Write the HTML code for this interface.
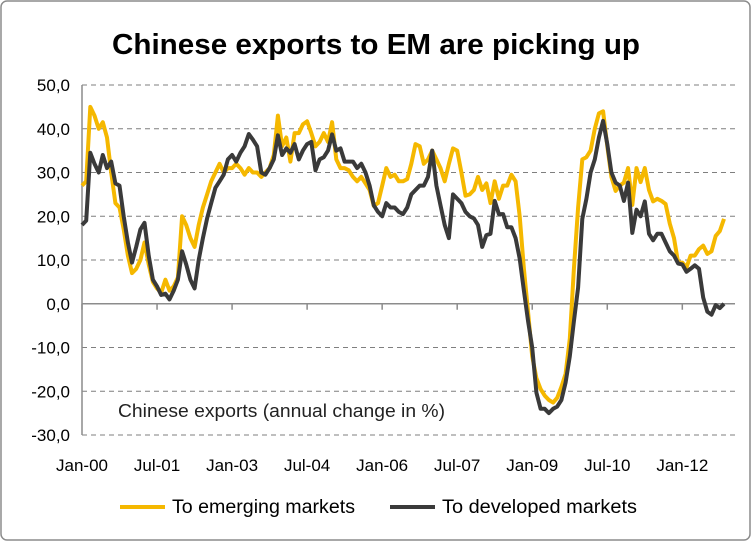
<!DOCTYPE html>
<html><head><meta charset="utf-8"><style>
html,body{margin:0;padding:0;background:#fff;}
svg{display:block;font-family:"Liberation Sans",sans-serif;}
</style></head><body>
<svg id="chart" width="751" height="541" viewBox="0 0 751 541">
<rect x="1" y="1" width="749" height="539" rx="6" fill="#fff" stroke="#8c8c8c" stroke-width="1.5"/>
<text x="376" y="54" text-anchor="middle" font-size="29" font-weight="bold" fill="#000" textLength="528" lengthAdjust="spacingAndGlyphs">Chinese exports to EM are picking up</text>
<g id="grid"></g><g id="axes"></g><g id="series"></g>
<text x="118" y="417" font-size="18" fill="#222" textLength="327" lengthAdjust="spacingAndGlyphs">Chinese exports (annual change in %)</text>
<g>
<g><line x1="120" y1="507" x2="165" y2="507" stroke="#f5b800" stroke-width="4"/><text x="172" y="513" font-size="19" fill="#000" textLength="183" lengthAdjust="spacingAndGlyphs">To emerging markets</text></g>
<g><line x1="390" y1="507" x2="435" y2="507" stroke="#3a3a3a" stroke-width="4"/><text x="442" y="513" font-size="19" fill="#000" textLength="195" lengthAdjust="spacingAndGlyphs">To developed markets</text></g>
</g>
</svg>
<script>
const yTicks=[50,40,30,20,10,0,-10,-20,-30];
const yTickLabels=["50,0","40,0","30,0","20,0","10,0","0,0","-10,0","-20,0","-30,0"];
const xTickMonths=[0,18,36,54,72,90,108,126,144];
const xTickLabels=["Jan-00","Jul-01","Jan-03","Jul-04","Jan-06","Jul-07","Jan-09","Jul-10","Jan-12"];
const emerging=[27,28,45,43,40,41.5,38,30,23,22,17,11,7,8,10,14,9,5,3.5,2.5,5.5,3,4,6,20,18,15,13,18,22,25,28,30,32,30,31,31,32,31,29.5,31,30,30,29,30,31,34,43,36,38,32.5,39,39,41,41.7,39,36,37,39,37,41.5,33,31,31,30.5,29,28,29,27.5,26,22.4,23,27,31,29,29.5,28,28,28.5,32,36.5,36,32,33,35,33,31,28,32,35.5,35,30,24.7,25,26,29,26,27.5,23,28,24,27,27,29.5,28,20,8,-2,-12,-17,-19.5,-21,-22,-22.6,-21.5,-19,-16,-8,8,22,33,33.5,35,40,43.5,44,36,29,25.8,27,27.7,31,22.6,31,27.8,31,26,23.4,24,23.5,22.8,18.3,15,9.4,9.4,8.3,11,11,12.5,13.3,11.4,12,15.5,16.6,19.4];
const developed=[18,19,34.5,32,30,34,31,32.5,27.5,27,20,14,9.4,13,17,18.5,11,5.5,4,2,2.3,1,3,5.5,12,9,5.5,3.5,10,15,19.5,23,26.5,28,29.5,33,34,32.5,34.5,36,38.8,37.5,36,30,29.5,31,33,38.5,34,35.5,34.5,36.5,33,35,36.5,37,30.5,33,33.5,35,38.7,35,35.5,32.5,32.5,32.5,31,32,30,27,22.5,21,20,23,22,22,21,20.5,22,25,26,27,27,29,35,27,22.5,18,15,25,24,23,21,20,19.5,18,13,15.7,16,23.5,20.5,20.5,17.5,17.5,15,10.3,3,-4,-10,-20.3,-24,-24,-25,-24,-23.5,-22,-18,-12,-4,3.7,19.4,24,30,33,38,41.8,36.5,30,27.7,27,23.5,27.7,16.2,21.5,20,23.4,16,14.5,16,16,14,12,11,9.2,9,7.3,8,8.8,8,1.4,-1.8,-2.5,-0.3,-1,0];

const NS="http://www.w3.org/2000/svg";
const X0=82,X1=724,Y50=85,Y_30=435;
function xs(i){return X0+(X1-X0)*i/(emerging.length-1);}
function ys(v){return Y50+(50-v)*(Y_30-Y50)/80;}
function mk(tag,attrs,parent){const e=document.createElementNS(NS,tag);for(const k in attrs)e.setAttribute(k,attrs[k]);parent.appendChild(e);return e;}
const grid=document.getElementById('grid'),axes=document.getElementById('axes'),series=document.getElementById('series');
yTicks.forEach((t,k)=>{
  if(t!==0){const l=mk('line',{x1:X0,x2:735,y1:ys(t),y2:ys(t),stroke:'#7f7f7f','stroke-width':1,'stroke-dasharray':'5,4'},grid);
  
  }
  const tx=mk('text',{x:70,y:ys(t)+6,'text-anchor':'end','font-size':17,fill:'#000'},axes);
  tx.textContent=yTickLabels[k];
  
  
});
const ya=mk('line',{x1:X0,x2:X0,y1:Y50,y2:Y_30,stroke:'#8c8c8c','stroke-width':1.5},axes);


const xa=mk('line',{x1:X0,x2:735,y1:ys(0),y2:ys(0),stroke:'#8c8c8c','stroke-width':1.5},axes);


xTickMonths.forEach((m,k)=>{
  const x=xs(m);
  const tk=mk('line',{x1:x,x2:x,y1:ys(0),y2:ys(0)+6,stroke:'#8c8c8c','stroke-width':1.5},axes);
  
  
  const tx=mk('text',{x:x,y:471,'text-anchor':'middle','font-size':17,fill:'#000'},axes);
  tx.textContent=xTickLabels[k];
  
  
});
function line(data,color,name){
  const d=data.map((v,i)=>(i?'L':'M')+xs(i).toFixed(1)+','+ys(v).toFixed(1)).join('');
  const p=mk('path',{d:d,fill:'none',stroke:color,'stroke-width':4,'stroke-linejoin':'round'},series);
  
  
}
line(emerging,'#f5b800','line-emerging-markets');
line(developed,'#3a3a3a','line-developed-markets');
</script>
</body></html>
